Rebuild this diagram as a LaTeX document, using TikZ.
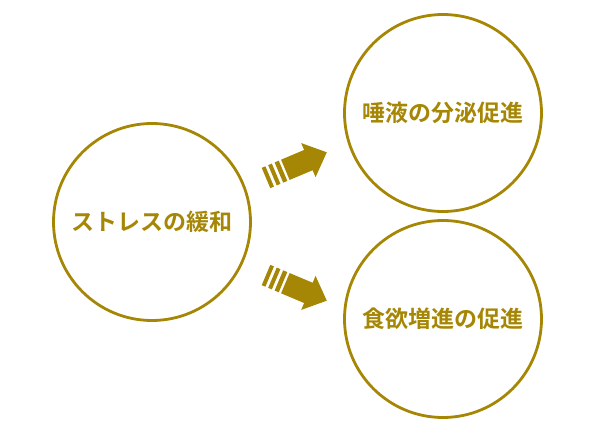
\documentclass[tikz,border=0pt]{standalone}
\usepackage{fontspec}
\newfontfamily\cjk{Noto Sans CJK JP}[BoldFont={Noto Sans CJK JP Bold}]
\definecolor{gold}{RGB}{166,135,5}
\tikzset{
  bubble/.style={circle, draw=gold, line width=2.8pt, minimum size=197pt, inner sep=0pt,
    text=gold, font=\cjk\bfseries\fontsize{23}{23}\selectfont},
  arrowfill/.style={fill=gold, draw=none}
}
\newcommand{\stripedarrow}{%
  \fill[arrowfill] (0,-11) rectangle (4,11);
  \fill[arrowfill] (7,-11) rectangle (11,11);
  \fill[arrowfill] (14,-11) rectangle (18.5,11);
  \fill[arrowfill] (21,-11) -- (46,-11) -- (46,-18.5) -- (66,0) -- (46,18.5) -- (46,11) -- (21,11) -- cycle;
}
\begin{document}
\begin{tikzpicture}[x=1pt, y=-1pt]
\useasboundingbox (0,0) rectangle (590,433);
\node[bubble] (stress) at (152,222) {ストレスの緩和};
\node[bubble] (saliva) at (443,113) {唾液の分泌促進};
\node[bubble] (appetite) at (443,319) {食欲増進の促進};
\begin{scope}[shift={(266,178)}, rotate=22.9]
  \stripedarrow
\end{scope}
\begin{scope}[shift={(266,275)}, rotate=-22.9]
  \stripedarrow
\end{scope}
\end{tikzpicture}
\end{document}
